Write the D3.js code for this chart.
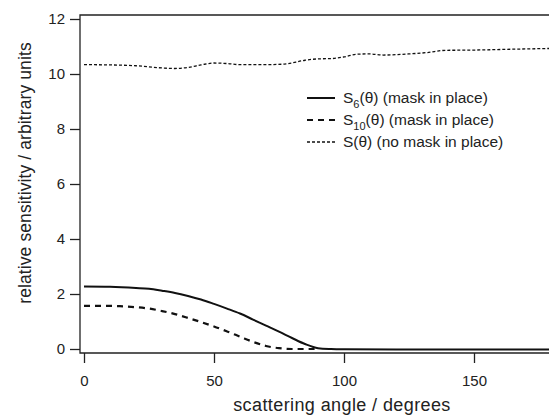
<!DOCTYPE html>
<html lang="en">
<head>
  <meta charset="utf-8">
  <title>Relative sensitivity</title>
  <script src="https://cdnjs.cloudflare.com/ajax/libs/d3/7.8.5/d3.min.js"></script>
  <style>
    body { margin: 0; background: #fff; }
    svg { display: block; font-family: "Liberation Sans", Arial, sans-serif; }
  </style>
</head>
<body>
  <svg id="chart" width="549" height="417"></svg>
  <script>
    //
    // Data
    //
    var angleS6 = [0, 10, 20, 25, 30, 35, 40, 45, 50, 55, 60, 65, 70, 75, 80, 85, 90, 95, 100, 120, 150, 180]
    var valueS6 = [2.27, 2.26, 2.22, 2.19, 2.12, 2.04, 1.93, 1.80, 1.64, 1.47, 1.29, 1.07, 0.85, 0.63, 0.40, 0.18, 0.03, 0.0, -0.01, -0.02, -0.02, -0.02]

    var angleS10 = [0, 10, 15, 20, 25, 30, 35, 40, 45, 50, 55, 60, 65, 70, 75, 80, 85, 90]
    var valueS10 = [1.57, 1.57, 1.55, 1.52, 1.47, 1.38, 1.27, 1.13, 0.98, 0.82, 0.64, 0.45, 0.26, 0.11, 0.03, 0.0, 0.0, 0.0]

    var angleS = [0, 10, 20, 30, 35, 40, 45, 50, 55, 60, 70, 77, 85, 90, 95, 100, 105, 110, 115, 125, 132, 139, 150, 164, 180]
    var valueS = [10.34, 10.33, 10.30, 10.22, 10.20, 10.24, 10.33, 10.40, 10.38, 10.34, 10.34, 10.36, 10.50, 10.55, 10.56, 10.62, 10.72, 10.73, 10.69, 10.73, 10.78, 10.86, 10.87, 10.90, 10.93]

    var xTicks = [0, 50, 100, 150]
    var yTicks = [0, 2, 4, 6, 8, 10, 12]
    var legendLabels = [
      { sub: '6', rest: '(\u03b8) (mask in place)' },
      { sub: '10', rest: '(\u03b8) (mask in place)' },
      { sub: '', rest: ' S(\u03b8) (no mask in place)' }
    ]

    //
    // Layout
    //
    var svg = d3.select('#chart')
    var frame = { left: 80, top: 15, bottom: 353, right: 560 }
    var x = d3.scaleLinear().domain([0, 180]).range([84, 552])
    var y = d3.scaleLinear().domain([0, 12]).range([349, 19])

    var styles = [
      { width: 2, dash: null },
      { width: 2.2, dash: '6,5' },
      { width: 1.3, dash: '3,2' }
    ]

    // frame (right edge is outside the window)
    svg.append('path')
      .attr('d', 'M' + frame.right + ',' + frame.top + 'H' + frame.left + 'V' + frame.bottom + 'H' + frame.right)
      .attr('fill', 'none')
      .attr('stroke', '#222')
      .attr('stroke-width', 1.3)

    // y axis
    var yAxis = svg.append('g')
      .attr('transform', 'translate(' + frame.left + ',0)')
      .call(d3.axisLeft(y).tickValues(yTicks).tickSize(10).tickPadding(5))
    yAxis.select('.domain').remove()

    // x axis
    var xAxis = svg.append('g')
      .attr('transform', 'translate(0,' + frame.bottom + ')')
      .call(d3.axisBottom(x).tickValues(xTicks).tickSize(10).tickPadding(12))
    xAxis.select('.domain').remove()

    svg.selectAll('.tick line').attr('stroke', '#222').attr('stroke-width', 1.3)
    svg.selectAll('.tick text')
      .attr('font-size', 15)
      .attr('fill', '#222')
      .attr('font-family', '"Liberation Sans", Arial, sans-serif')

    // axis titles
    svg.append('text')
      .attr('x', 342)
      .attr('y', 411)
      .attr('text-anchor', 'middle')
      .attr('font-size', 18)
      .attr('letter-spacing', 0.4)
      .attr('fill', '#222')
      .text('scattering angle / degrees')

    svg.append('text')
      .attr('transform', 'translate(31,173) rotate(-90)')
      .attr('text-anchor', 'middle')
      .attr('font-size', 17.5)
      .attr('letter-spacing', 0.1)
      .attr('fill', '#222')
      .text('relative sensitivity / arbitrary units')

    // curves
    var line = d3.line()
      .x(function(d) { return x(d[0]) })
      .y(function(d) { return y(d[1]) })
      .curve(d3.curveMonotoneX)

    var series = [
      d3.zip(angleS6, valueS6),
      d3.zip(angleS10, valueS10),
      d3.zip(angleS, valueS)
    ]

    svg.append('clipPath').attr('id', 'clip')
      .append('rect').attr('x', frame.left).attr('y', frame.top).attr('width', 500).attr('height', frame.bottom - frame.top)

    series.forEach(function(s, i) {
      svg.append('path')
        .datum(s)
        .attr('clip-path', 'url(#clip)')
        .attr('d', line)
        .attr('fill', 'none')
        .attr('stroke', '#111')
        .attr('stroke-width', styles[i].width)
        .attr('stroke-dasharray', styles[i].dash)
    })

    // legend
    var legend = svg.append('g').attr('transform', 'translate(307,98)')
    legendLabels.forEach(function(l, i) {
      var g = legend.append('g').attr('transform', 'translate(0,' + (i * 22) + ')')
      g.append('line')
        .attr('x1', 0).attr('x2', 28)
        .attr('stroke', '#111')
        .attr('stroke-width', styles[i].width)
        .attr('stroke-dasharray', styles[i].dash)
      var t = g.append('text')
        .attr('x', 36)
        .attr('y', 5)
        .attr('font-size', 15.5)
        .attr('fill', '#222')
      if (l.sub) {
        t.append('tspan').text('S')
        t.append('tspan').attr('dy', 4.5).attr('font-size', 11).text(l.sub)
        t.append('tspan').attr('dy', -4.5).text(l.rest)
      } else {
        t.append('tspan').text(l.rest)
      }
    })
  </script>
</body>
</html>
